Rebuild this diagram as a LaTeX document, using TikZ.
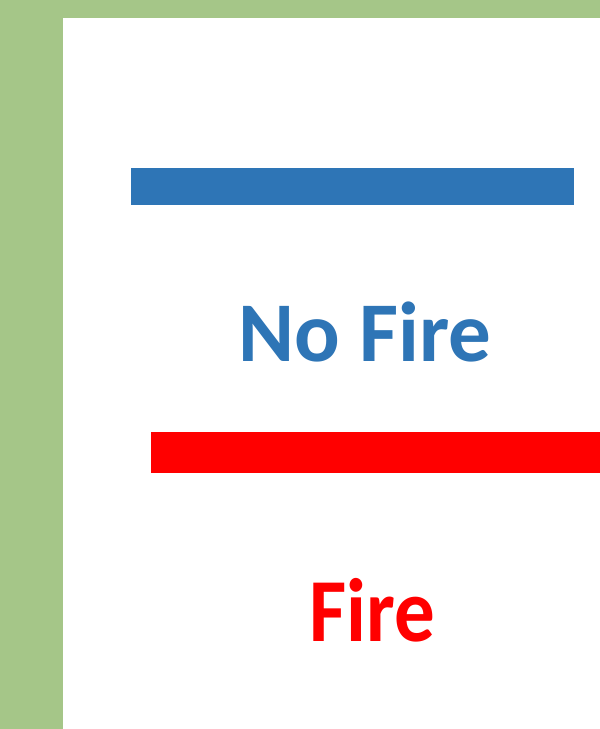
\documentclass[tikz,border=0pt]{standalone}
\usepackage{fontspec}
\setmainfont{Carlito}
\usepackage{tikz}
\usetikzlibrary{positioning}
\definecolor{bleu}{HTML}{2E75B6}
\definecolor{rouge}{HTML}{FF0000}
\definecolor{vertfond}{HTML}{A5C688}
\tikzset{
  titre/.style={inner sep=0pt,anchor=base,font=\bfseries\fontsize{85}{85}\selectfont},
}
\begin{document}
\begin{tikzpicture}[x=1pt,y=-1pt]
  \useasboundingbox (0,0) rectangle (600,729);
  \fill[vertfond] (0,0) rectangle (600,729);
  \fill[white] (63,18) rectangle (600,729);
  \fill[bleu] (131,168) rectangle (574,205);
  \fill[rouge] (151,432) rectangle (600,473);
  \node[titre,text=bleu] (nofire) at (365,361) {No Fire};
  \node[titre,text=rouge,font=\bfseries\fontsize{90}{90}\selectfont,xscale=0.9] (fire) at (372,641) {Fire};
\end{tikzpicture}
\end{document}
